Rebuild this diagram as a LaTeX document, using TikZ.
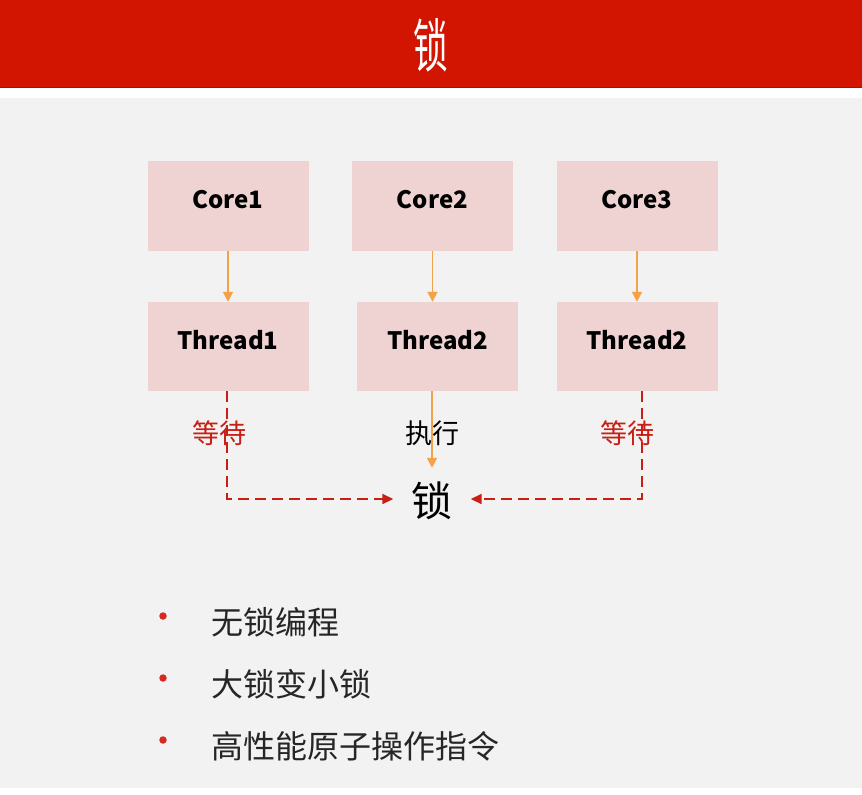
\documentclass[tikz,border=0pt]{standalone}
\usepackage{fontspec}
\setmainfont{Noto Sans CJK SC}
\usetikzlibrary{arrows.meta,calc}
\definecolor{hdrred}{HTML}{D11500}
\definecolor{hdrline}{HTML}{A81000}
\definecolor{bggray}{HTML}{F2F2F2}
\definecolor{boxpink}{HTML}{EFD3D3}
\definecolor{arrorange}{HTML}{F4A24A}
\definecolor{waitred}{HTML}{C81E14}
\definecolor{dotred}{HTML}{D42A20}
\newcommand{\boxlabel}[1]{\raisebox{14pt}{#1}}
\tikzset{
  cpubox/.style={fill=boxpink, draw=none, minimum width=161pt, minimum height=90pt, inner sep=0pt,
                 font=\fontsize{24}{26}\selectfont\bfseries},
  orangearrow/.style={draw=arrorange, line width=1.8pt, -{Triangle[length=10pt,width=10pt]}},
  waitarrow/.style={draw=waitred, line width=1.7pt, dash pattern=on 11pt off 6pt, -{Triangle[length=11pt,width=10pt]}},
  waitlabel/.style={text=waitred, font=\fontsize{27}{30}\selectfont, inner sep=0pt},
  bullettext/.style={anchor=west, font=\fontsize{32}{36}\selectfont, inner sep=0pt, text=black!85},
  bulletdot/.style={fill=dotred, draw=none, circle, minimum size=7.5pt, inner sep=0pt}
}
\begin{document}
\begin{tikzpicture}[x=1pt,y=-1pt]
\useasboundingbox (0,0) rectangle (862,795);
\fill[white] (0,0) rectangle (862,795);
% header
\fill[hdrred] (0,0) rectangle (862,87);
\draw[hdrline, line width=1.2pt] (0,87.5) -- (862,87.5);
\node[text=white, font=\fontsize{58}{62}\selectfont, xscale=0.6, inner sep=0pt] (title) at (431,45) {锁};
% content background
\fill[bggray] (0,98) rectangle (862,788);
% boxes
\node[cpubox] (c1) at (228,206) {\boxlabel{Core1}};
\node[cpubox] (c2) at (432.5,206) {\boxlabel{Core2}};
\node[cpubox] (c3) at (637,206) {\boxlabel{Core3}};
\node[cpubox, minimum height=89pt] (t1) at (228,346.5) {\boxlabel{Thread1}};
\node[cpubox, minimum height=89pt] (t2) at (437.5,346.5) {\boxlabel{Thread2}};
\node[cpubox, minimum height=89pt] (t3) at (637,346.5) {\boxlabel{Thread2}};
% lock
\node[minimum width=77pt, minimum height=66pt, inner sep=0pt, font=\fontsize{41}{44}\selectfont] (lock) at (432,501) {锁};
% core -> thread arrows
\draw[orangearrow] (c1.south) -- (c1.south |- t1.north);
\draw[orangearrow] (c2.south) -- (c2.south |- t2.north);
\draw[orangearrow] (c3.south) -- (c3.south |- t3.north);
% execute label and arrow
\node[font=\fontsize{27}{30}\selectfont, inner sep=0pt] (exec) at (432,433) {执行};
\draw[orangearrow] (lock.north |- t2.south) -- (lock.north);
% wait arrows
\draw[waitarrow] ($(t1.south)+(-1,0)$) |- ($(lock.west)+(0,-2)$);
\draw[waitarrow] ($(t3.south)+(5,0)$) |- ($(lock.east)+(0,-2)$);
\node[waitlabel] (w1) at (219,433) {等待};
\node[waitlabel] (w3) at (627,433) {等待};
% bullets
\node[bulletdot] (d1) at (163,616) {};
\node[bulletdot] (d2) at (163,678) {};
\node[bulletdot] (d3) at (163,740) {};
\node[bullettext] (b1) at (211,622) {无锁编程};
\node[bullettext] (b2) at (211,684) {大锁变小锁};
\node[bullettext] (b3) at (211,746) {高性能原子操作指令};
\end{tikzpicture}
\end{document}
